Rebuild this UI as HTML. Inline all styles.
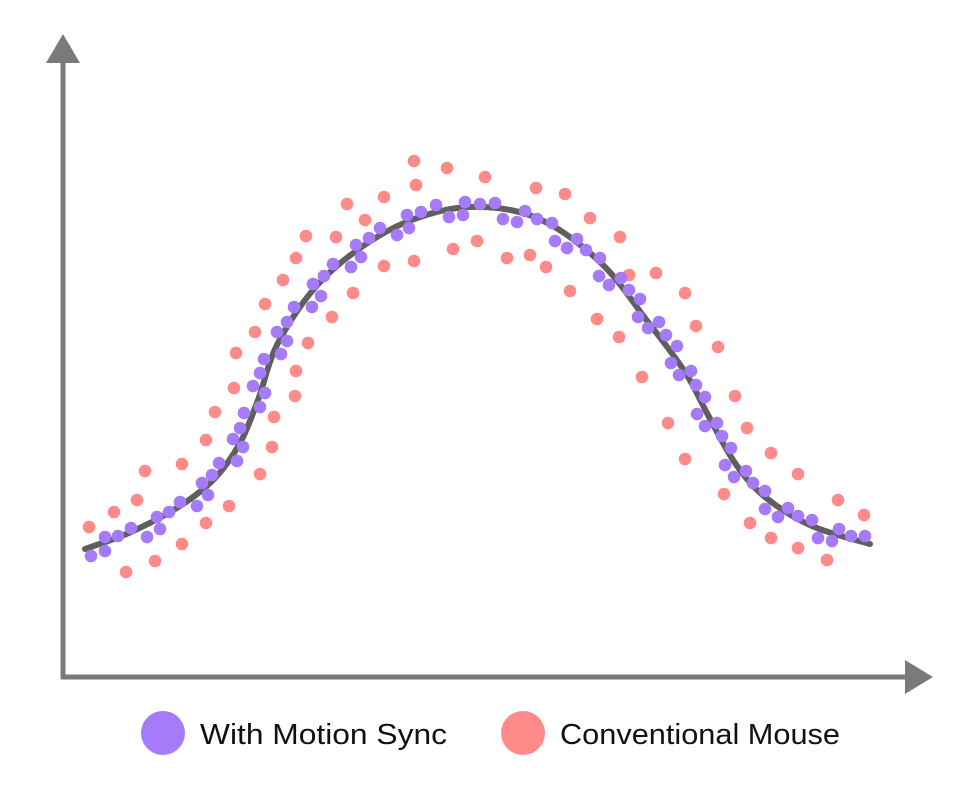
<!DOCTYPE html>
<html><head><meta charset="utf-8"><style>html,body{margin:0;padding:0;background:#fff}svg{display:block}</style></head>
<body>
<svg id="s" width="967" height="789" viewBox="0 0 967 789" xmlns="http://www.w3.org/2000/svg">
<rect width="967" height="789" fill="#fff"/>
<line x1="63" y1="60" x2="63" y2="679" stroke="#7a7a7a" stroke-width="5"/>
<polygon points="63,34 46,63 80,63" fill="#7a7a7a"/>
<line x1="61" y1="677" x2="908" y2="677" stroke="#7a7a7a" stroke-width="5"/>
<polygon points="933,677 905,660 905,694" fill="#7a7a7a"/>
<g id="pink" fill="#ff8a8a"></g>
<path id="curve" fill="none" stroke="#5f5f5f" stroke-width="6" stroke-linecap="round"/>
<g id="purple" fill="#a67bfa"></g>
<circle cx="163" cy="733" r="22" fill="#a67bfa"/>
<text x="200" y="744" font-family="Liberation Sans, sans-serif" font-size="29" fill="#111" textLength="247" lengthAdjust="spacingAndGlyphs">With Motion Sync</text>
<circle cx="523" cy="733" r="22" fill="#ff8a8a"/>
<text x="560" y="744" font-family="Liberation Sans, sans-serif" font-size="29" fill="#111" textLength="280" lengthAdjust="spacingAndGlyphs">Conventional Mouse</text>
</svg>
<script>
var NS="http://www.w3.org/2000/svg";
var pink=[[89,527],[114,512],[126,572],[137,500],[145,471],[155,561],[182,464],[182,544],[206,440],[206,523],[215,412],[229,506],[234,388],[236,353],[255,332],[260,474],[265,304],[272,447],[274,417],[283,280],[295,396],[296,371],[296,258],[306,236],[308,343],[332,317],[336,237],[347,204],[353,293],[365,220],[384,197],[384,266],[414,161],[416,185],[414,261],[447,168],[453,249],[477,241],[485,177],[507,258],[530,255],[536,188],[546,267],[565,194],[570,291],[590,218],[597,319],[620,237],[619,337],[629,275],[656,273],[642,377],[685,293],[668,423],[696,326],[685,459],[718,347],[735,396],[724,494],[747,428],[750,523],[771,453],[771,538],[798,474],[798,548],[827,560],[838,500],[864,515]];
var purple=[[91,556],[105,551],[105,537],[118,536],[131,528],[147,537],[157,517],[160,529],[169,512],[180,502],[197,506],[202,483],[208,495],[212,475],[219,463],[233,439],[237,461],[240,428],[243,447],[244,413],[253,386],[260,407],[260,373],[265,393],[264,359],[277,332],[281,354],[287,322],[287,341],[294,307],[312,307],[313,284],[321,296],[324,276],[333,264],[351,267],[356,245],[361,257],[369,238],[380,228],[397,235],[407,215],[409,228],[421,212],[436,205],[449,217],[463,215],[465,202],[480,204],[495,203],[503,219],[517,222],[525,211],[537,219],[552,223],[555,241],[567,248],[577,239],[586,250],[600,258],[599,276],[609,285],[621,278],[629,290],[640,299],[638,317],[648,328],[659,322],[666,335],[677,346],[671,363],[679,375],[691,371],[696,385],[705,397],[697,414],[705,426],[717,423],[722,436],[731,448],[725,465],[734,477],[746,471],[753,483],[765,491],[765,509],[778,517],[788,508],[798,516],[812,520],[818,538],[832,541],[839,529],[851,536],[865,536]];
function add(g,arr){var e=document.getElementById(g);arr.forEach(function(p){var c=document.createElementNS(NS,"circle");c.setAttribute("cx",p[0]);c.setAttribute("cy",p[1]);c.setAttribute("r",6.3);e.appendChild(c);});}
add("pink",pink);add("purple",purple);
var P=[[85,549],[131,532],[180,506],[215,478],[240,443],[258,400],[277,345],[313,290],[356,251],[409,221],[470,207],[537,218],[600,262],[648,322],[685,372],[708,415],[735,463],[765,497],[812,526],[870,544]];
var d="M"+P[0][0]+","+P[0][1];
for(var i=0;i<P.length-1;i++){var p0=P[Math.max(0,i-1)],p1=P[i],p2=P[i+1],p3=P[Math.min(P.length-1,i+2)];
d+="C"+(p1[0]+(p2[0]-p0[0])/6).toFixed(1)+","+(p1[1]+(p2[1]-p0[1])/6).toFixed(1)+" "+(p2[0]-(p3[0]-p1[0])/6).toFixed(1)+","+(p2[1]-(p3[1]-p1[1])/6).toFixed(1)+" "+p2[0]+","+p2[1];}
document.getElementById("curve").setAttribute("d",d);
</script>
</body></html>
